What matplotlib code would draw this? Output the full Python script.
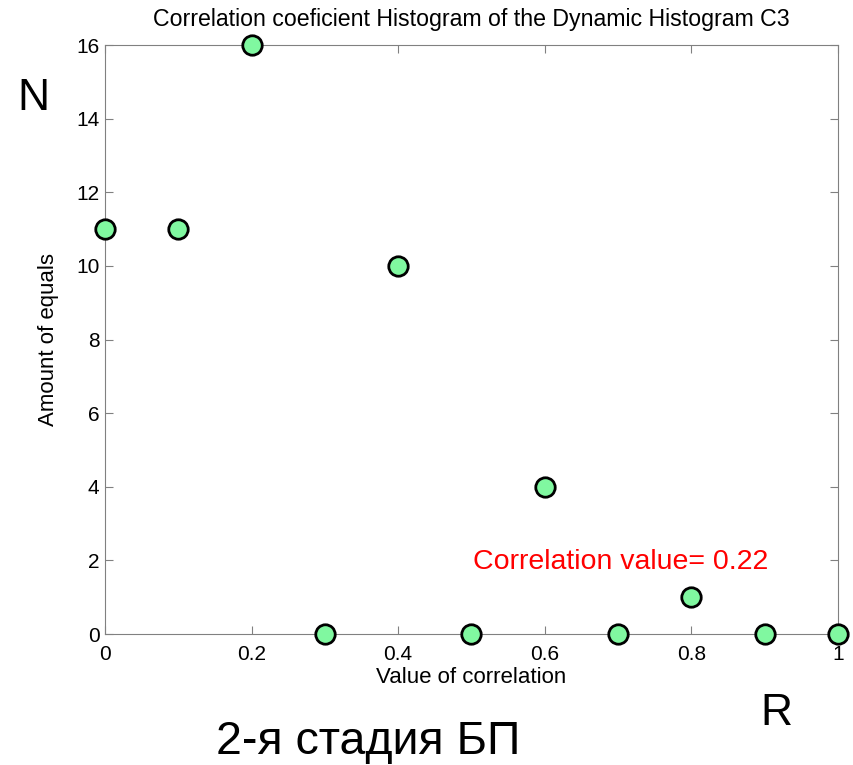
import matplotlib.pyplot as plt

# correlation bins and counts
corr_values = [0.0, 0.1, 0.2, 0.3, 0.4, 0.5, 0.6, 0.7, 0.8, 0.9, 1.0]
counts = [11, 11, 16, 0, 10, 0, 4, 0, 1, 0, 0]
x_ticks = [0, 0.2, 0.4, 0.6, 0.8, 1]
x_ticklabels = ['0', '0.2', '0.4', '0.6', '0.8', '1']
y_ticks = [0, 2, 4, 6, 8, 10, 12, 14, 16]

plt.rcParams['font.family'] = ['Liberation Sans', 'DejaVu Sans']

fig = plt.figure(figsize=(8.54, 7.65), dpi=100)
ax = fig.add_axes([0.123, 0.1712, 0.858, 0.7699])

ax.plot(corr_values, counts, linestyle='none', marker='o', markersize=14,
        markerfacecolor='#80f8a0', markeredgecolor='black', markeredgewidth=2,
        clip_on=False, zorder=5)

ax.set_xlim(0, 1)
ax.set_ylim(0, 16)
ax.set_xticks(x_ticks)
ax.set_xticklabels(x_ticklabels)
ax.set_yticks(y_ticks)
ax.tick_params(direction='in', top=True, right=True, labelsize=15, length=6,
               color='#808080')
ax.tick_params(axis='x', pad=8)
ax.tick_params(axis='y', pad=4)
for s in ax.spines.values():
    s.set_color('#808080')

ax.set_title('Correlation coeficient Histogram of the Dynamic Histogram C3',
             fontsize=16.7, pad=14)
ax.set_xlabel('Value of correlation', fontsize=16, labelpad=2)
ax.set_ylabel('Amount of equals', fontsize=16, labelpad=12)

ax.text(0.703, 1.96, 'Correlation value= 0.22', color='red', fontsize=20.5,
        ha='center', va='center')

fig.text(33 / 854, 1 - 110 / 765, 'N', fontsize=32, ha='center', va='baseline')
fig.text(776 / 854, 1 - 725 / 765, 'R', fontsize=32, ha='center', va='baseline')
fig.text(368 / 854, 1 - 754 / 765, '2-я стадия БП', fontsize=33.5,
         ha='center', va='baseline')

fig.savefig('out.png', dpi=100)
